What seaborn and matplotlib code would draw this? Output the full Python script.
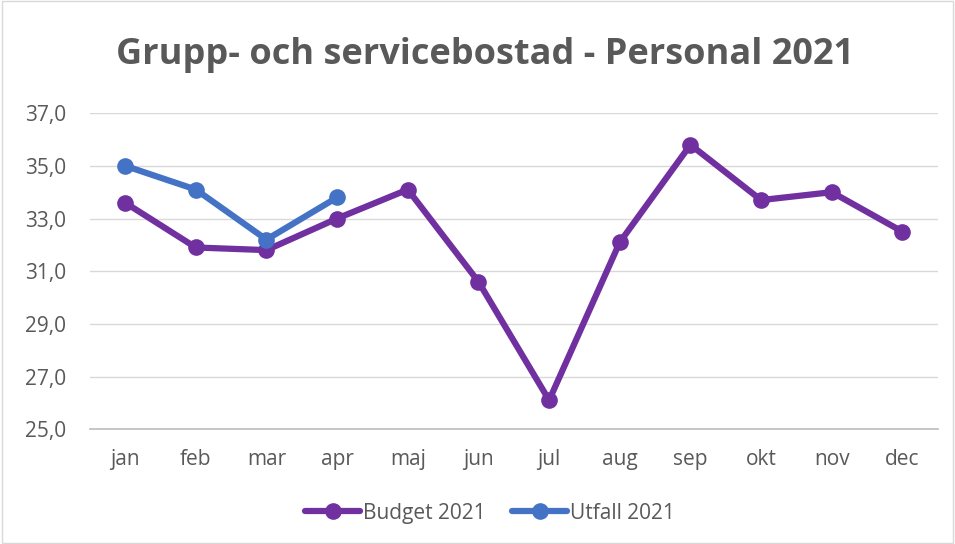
import pandas as pd
import matplotlib.pyplot as plt
import seaborn as sns
from matplotlib.ticker import FuncFormatter

sns.set_theme(style="whitegrid")
plt.rcParams['font.family'] = ['Open Sans', 'DejaVu Sans']

months = ['jan', 'feb', 'mar', 'apr', 'maj', 'jun', 'jul', 'aug', 'sep', 'okt', 'nov', 'dec']
budget = [33.6, 31.9, 31.8, 33.0, 34.1, 30.6, 26.1, 32.1, 35.8, 33.7, 34.0, 32.5]
utfall_months = ['jan', 'feb', 'mar', 'apr']
utfall = [35.0, 34.1, 32.2, 33.8]

df = pd.concat([
    pd.DataFrame({'month': months, 'value': budget, 'serie': 'Budget 2021'}),
    pd.DataFrame({'month': utfall_months, 'value': utfall, 'serie': 'Utfall 2021'}),
])
df['month'] = pd.Categorical(df['month'], categories=months, ordered=True)
df['x'] = df['month'].cat.codes

fig = plt.figure(figsize=(9.55, 5.44), dpi=100)
ax = fig.add_axes([0.094, 0.211, 0.888, 0.581])

palette = {'Budget 2021': '#7030A0', 'Utfall 2021': '#4472C4'}
sns.lineplot(data=df, x='x', y='value', hue='serie', palette=palette, ax=ax,
             marker='o', markersize=12, linewidth=4.5, markeredgewidth=0, sort=False)

ax.set_xlim(-0.5, 11.5)
ax.set_ylim(25, 37)
ax.set_yticks([25, 27, 29, 31, 33, 35, 37])
ax.yaxis.set_major_formatter(FuncFormatter(lambda v, p: f"{v:.1f}".replace('.', ',')))
ax.set_xticks(range(12))
ax.set_xticklabels(months)
ax.grid(axis='x', visible=False)
ax.grid(axis='y', color='#d9d9d9', linewidth=1)
ax.tick_params(axis='both', colors='#595959', labelsize=15, length=0)
ax.tick_params(axis='x', pad=14)
ax.tick_params(axis='y', pad=17)
for s in ['top', 'right', 'left']:
    ax.spines[s].set_visible(False)
ax.spines['bottom'].set_color('#bfbfbf')
ax.set_xlabel('')
ax.set_ylabel('')

fig.suptitle('Grupp- och servicebostad - Personal 2021', x=0.508, y=0.899, va='center',
             fontsize=26, fontweight='bold', color='#595959')

ax.legend(loc='center', bbox_to_anchor=(0.472, -0.266), ncol=2, frameon=False,
          fontsize=15, labelcolor='#595959', handlelength=2.6, handletextpad=0.15,
          columnspacing=1.3)

fig.patches.append(plt.Rectangle((0.002, 0.002), 0.996, 0.996, transform=fig.transFigure,
                                 fill=False, edgecolor='#d9d9d9', linewidth=1))

fig.savefig('out.png', dpi=100)
